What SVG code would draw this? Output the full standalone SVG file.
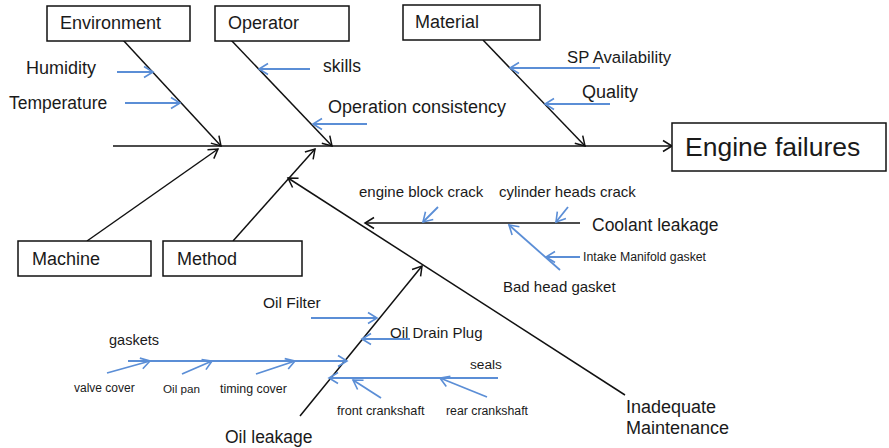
<svg xmlns="http://www.w3.org/2000/svg" width="889" height="448" viewBox="0 0 889 448">
<style>
.box{fill:#fff;stroke:#111;stroke-width:1.5}
.t{font-family:"Liberation Sans",Arial,sans-serif;fill:#1a1a1a}
.c18{font-size:18px}
.c17{font-size:17.5px}
.c15{font-size:15px}
.c12{font-size:12px}
.main{stroke:#111;stroke-width:1.5;fill:none}
.sub{stroke:#5b8ed6;stroke-width:1.8;fill:none}
</style>
<defs>
<marker id="ab" markerUnits="userSpaceOnUse" markerWidth="14" markerHeight="14" refX="11" refY="7" orient="auto">
<path d="M2,1.5 L11,7 L2,12.5" fill="none" stroke="#111" stroke-width="1.5"/>
</marker>
<marker id="au" markerUnits="userSpaceOnUse" markerWidth="14" markerHeight="14" refX="11" refY="7" orient="auto">
<path d="M2,1.5 L11,7 L2,12.5" fill="none" stroke="#5b8ed6" stroke-width="1.6"/>
</marker>
</defs>
<rect width="889" height="448" fill="#fff"/>

<g id="connectors">
<line class="main" x1="113" y1="146" x2="672" y2="146" marker-end="url(#ab)"/>
<line class="main" x1="123" y1="40" x2="221" y2="146" marker-end="url(#ab)"/>
<line class="main" x1="231" y1="40" x2="332" y2="146" marker-end="url(#ab)"/>
<line class="main" x1="483" y1="40" x2="585" y2="146" marker-end="url(#ab)"/>
<line class="main" x1="87" y1="241" x2="218" y2="149" marker-end="url(#ab)"/>
<line class="main" x1="233" y1="241" x2="315" y2="149" marker-end="url(#ab)"/>
<line class="main" x1="625" y1="395" x2="288" y2="178" marker-end="url(#ab)"/>
<line class="main" x1="580" y1="223" x2="365" y2="223" marker-end="url(#ab)"/>
<line class="main" x1="300" y1="416" x2="422" y2="266" marker-end="url(#ab)"/>

<line class="sub" x1="117" y1="72" x2="153" y2="72" marker-end="url(#au)"/>
<line class="sub" x1="125" y1="103" x2="180" y2="103" marker-end="url(#au)"/>
<line class="sub" x1="310" y1="69" x2="259" y2="69" marker-end="url(#au)"/>
<line class="sub" x1="367" y1="124" x2="313" y2="124" marker-end="url(#au)"/>
<line class="sub" x1="600" y1="68" x2="510" y2="68" marker-end="url(#au)"/>
<line class="sub" x1="610" y1="104" x2="545" y2="104" marker-end="url(#au)"/>

<line class="sub" x1="438" y1="207" x2="423" y2="222" marker-end="url(#au)"/>
<line class="sub" x1="568" y1="207" x2="556" y2="222" marker-end="url(#au)"/>
<line class="sub" x1="560" y1="270" x2="509" y2="225" marker-end="url(#au)"/>
<line class="sub" x1="580" y1="257" x2="546" y2="257" marker-end="url(#au)"/>

<line class="sub" x1="311" y1="318" x2="377" y2="318" marker-end="url(#au)"/>
<line class="sub" x1="410" y1="339" x2="362" y2="339" marker-end="url(#au)"/>
<line class="sub" x1="128" y1="361" x2="347" y2="361" marker-end="url(#au)"/>
<line class="sub" x1="107" y1="373" x2="150" y2="361" marker-end="url(#au)"/>
<line class="sub" x1="182" y1="374" x2="212" y2="361" marker-end="url(#au)"/>
<line class="sub" x1="256" y1="374" x2="295" y2="361" marker-end="url(#au)"/>
<line class="sub" x1="498" y1="378" x2="329" y2="378" marker-end="url(#au)"/>
<line class="sub" x1="381" y1="398" x2="353" y2="380" marker-end="url(#au)"/>
<line class="sub" x1="487" y1="397" x2="440" y2="378" marker-end="url(#au)"/>
</g>

<g id="environment"><rect class="box" x="47" y="6" width="143" height="35"/><text class="t c18" x="60" y="29">Environment</text></g>
<g id="operator"><rect class="box" x="215" y="6" width="134" height="35"/><text class="t c18" x="228" y="29">Operator</text></g>
<g id="material"><rect class="box" x="403" y="5" width="137" height="35"/><text class="t c18" x="415" y="28">Material</text></g>
<g id="machine"><rect class="box" x="18" y="241" width="133" height="35"/><text class="t c18" x="32" y="265">Machine</text></g>
<g id="method"><rect class="box" x="163" y="241" width="139" height="35"/><text class="t c18" x="177" y="265">Method</text></g>
<g id="engine-failures"><rect class="box" x="672" y="123" width="214" height="48"/><text class="t" x="685" y="156" font-size="26.5px">Engine failures</text></g>

<g id="humidity"><text class="t c18" x="26" y="74">Humidity</text></g>
<g id="temperature"><text class="t c17" x="9" y="109">Temperature</text></g>
<g id="skills"><text class="t c17" x="323" y="72">skills</text></g>
<g id="operation-consistency"><text class="t c18" x="328" y="113">Operation consistency</text></g>
<g id="sp-availability"><text class="t" x="567" y="63" font-size="16.7px">SP Availability</text></g>
<g id="quality"><text class="t c18" x="582" y="98">Quality</text></g>

<g id="coolant-leakage"><text class="t c17" x="592" y="231">Coolant leakage</text></g>
<g id="engine-block-crack"><text class="t c15" x="359" y="197">engine block crack</text></g>
<g id="cylinder-heads-crack"><text class="t c15" x="499" y="197">cylinder heads crack</text></g>
<g id="intake-manifold-gasket"><text class="t" x="583" y="261" font-size="12.3px">Intake Manifold gasket</text></g>
<g id="bad-head-gasket"><text class="t c15" x="503" y="292">Bad head gasket</text></g>
<g id="inadequate-maintenance"><text class="t c18" x="626" y="413">Inadequate</text><text class="t c18" x="626" y="434">Maintenance</text></g>

<g id="oil-leakage"><text class="t c17" x="225" y="443">Oil leakage</text></g>
<g id="oil-filter"><text class="t" x="263" y="308" font-size="15.5px">Oil Filter</text></g>
<g id="oil-drain-plug"><text class="t c15" x="390" y="338">Oil Drain Plug</text></g>
<g id="gaskets"><text class="t" x="109" y="345" font-size="14.5px">gaskets</text></g>
<g id="seals"><text class="t" x="470" y="369" font-size="13.7px">seals</text></g>
<g id="valve-cover"><text class="t c12" x="74" y="392">valve cover</text></g>
<g id="oil-pan"><text class="t" x="163" y="393" font-size="11.7px">Oil pan</text></g>
<g id="timing-cover"><text class="t" x="220" y="393" font-size="12.4px">timing cover</text></g>
<g id="front-crankshaft"><text class="t" x="337" y="415" font-size="12.7px">front crankshaft</text></g>
<g id="rear-crankshaft"><text class="t" x="446" y="415" font-size="12.3px">rear crankshaft</text></g>
</svg>
